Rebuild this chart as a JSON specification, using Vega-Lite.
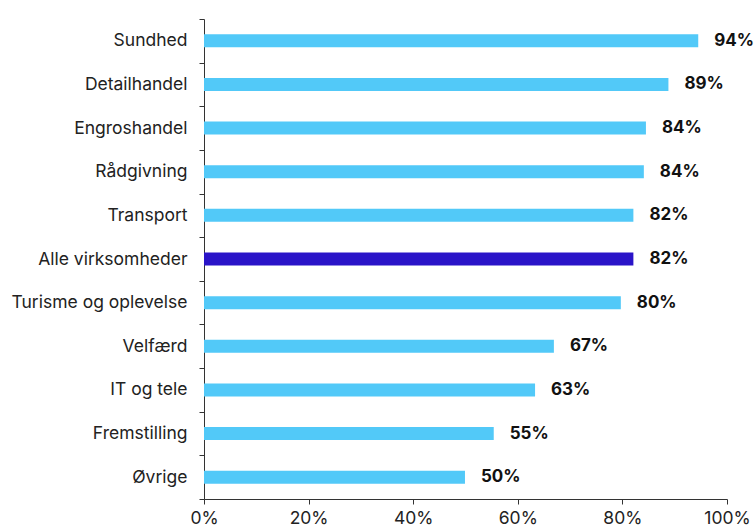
{
  "$schema": "https://vega.github.io/schema/vega-lite/v6.json",
  "width": 523,
  "height": 480,
  "padding": {"left": 11, "top": 10, "right": 0, "bottom": 0},
  "background": "white",
  "config": {"view": {"stroke": null}, "font": "Inter"},
  "data": {"values": [
    {"branche": "Sundhed", "andel": 0.945, "label": "94%", "gruppe": "branche"},
    {"branche": "Detailhandel", "andel": 0.888, "label": "89%", "gruppe": "branche"},
    {"branche": "Engroshandel", "andel": 0.845, "label": "84%", "gruppe": "branche"},
    {"branche": "Rådgivning", "andel": 0.841, "label": "84%", "gruppe": "branche"},
    {"branche": "Transport", "andel": 0.821, "label": "82%", "gruppe": "branche"},
    {"branche": "Alle virksomheder", "andel": 0.821, "label": "82%", "gruppe": "alle"},
    {"branche": "Turisme og oplevelse", "andel": 0.797, "label": "80%", "gruppe": "branche"},
    {"branche": "Velfærd", "andel": 0.669, "label": "67%", "gruppe": "branche"},
    {"branche": "IT og tele", "andel": 0.633, "label": "63%", "gruppe": "branche"},
    {"branche": "Fremstilling", "andel": 0.554, "label": "55%", "gruppe": "branche"},
    {"branche": "Øvrige", "andel": 0.499, "label": "50%", "gruppe": "branche"}
  ]},
  "encoding": {
    "y": {
      "field": "branche", "type": "nominal", "sort": null,
      "scale": {"paddingInner": 0, "paddingOuter": 0},
      "axis": {
        "title": null, "tickBand": "extent", "labelFontSize": 17.5, "labelColor": "#222222",
        "labelPadding": 12, "tickSize": 5, "domainColor": "#333333", "tickColor": "#333333",
        "labelFont": "Inter", "labelLimit": 300
      }
    },
    "x": {
      "field": "andel", "type": "quantitative",
      "scale": {"domain": [0, 1], "nice": false},
      "axis": {
        "title": null, "format": ".0%", "values": [0, 0.2, 0.4, 0.6, 0.8, 1],
        "grid": false, "labelFontSize": 17.5, "labelColor": "#222222", "tickSize": 5,
        "labelPadding": 5, "domainColor": "#333333", "tickColor": "#333333", "labelFont": "Inter",
        "labelFlush": false
      }
    }
  },
  "layer": [
    {
      "mark": {"type": "bar", "size": 13},
      "encoding": {
        "color": {
          "field": "gruppe", "type": "nominal", "legend": null,
          "scale": {"domain": ["branche", "alle"], "range": ["#52C9F8", "#2A14C8"]}
        }
      }
    },
    {
      "mark": {"type": "text", "align": "left", "dx": 16, "fontSize": 17, "fontWeight": "bold", "color": "#111111", "font": "Inter"},
      "encoding": {"text": {"field": "label"}}
    }
  ]
}
